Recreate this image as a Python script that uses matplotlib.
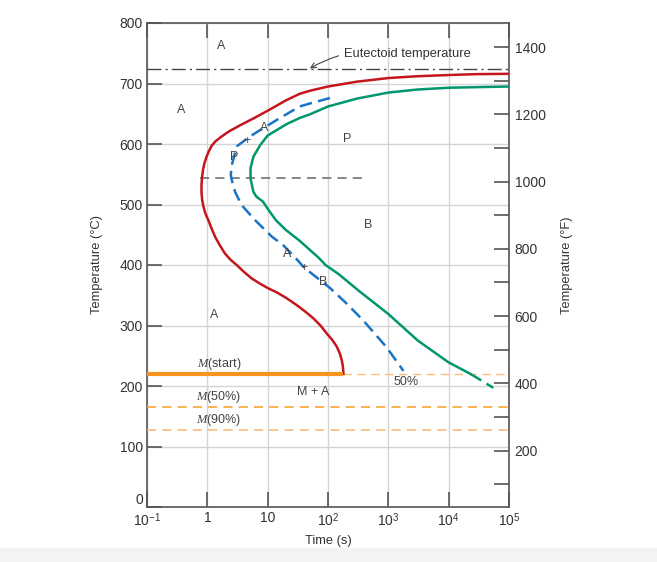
import numpy as np
import matplotlib
matplotlib.use("Agg")
import matplotlib.pyplot as plt
from matplotlib.patches import Rectangle

plt.rcParams['font.family'] = ['Liberation Sans', 'DejaVu Sans']
plt.rcParams['mathtext.fontset'] = 'custom'
plt.rcParams['mathtext.rm'] = 'Liberation Sans'
plt.rcParams['mathtext.it'] = 'Liberation Serif:italic'

# start of transformation (red)
red_t = [1e5, 3e4, 1e4, 3e3, 1e3, 300, 100, 50, 34, 20, 10, 6, 3.5, 2.3, 1.7, 1.35, 1.18, 1.06, 0.97,
         0.9, 0.85, 0.82, 0.8, 0.8, 0.82, 0.86, 0.93, 1.04, 1.18, 1.34, 1.6, 1.96, 2.4, 3.07, 4.0, 5.4, 7.5,
         10, 14, 20, 30, 42, 57, 75, 95, 118, 140, 158, 169, 176, 179, 180]
red_T = [716, 715.5, 714, 712, 709, 703, 695, 688, 683, 672, 655, 643, 631, 621, 612, 604, 597, 588, 579,
         569, 558, 546, 533, 520, 508, 497, 485, 474, 460, 447, 433, 419, 409, 400, 389, 378, 369,
         362, 355, 346, 334, 323, 312, 300, 287, 276, 265, 253, 243, 233, 225, 220]

# end of transformation (green)
green_t = [1e5, 3e4, 1e4, 3e3, 1e3, 300, 100, 50, 34, 20.7, 10, 7.5, 5.8, 5.2, 5.2, 5.8, 6.5, 8.3,
           10.5, 13.7, 20, 33, 70, 91, 150, 318, 1000, 3090, 1e4, 2.3e4]
green_T = [695, 694, 693, 690, 685, 675, 662, 649, 643, 633, 614, 598, 579, 560, 543, 521, 513, 505,
           490, 474, 458, 441, 412, 400, 385, 358, 319, 275, 239, 220]
green_ext_t = [2.3e4, 5.5e4]
green_ext_T = [220, 197]

# 50% completion (blue dashed)
blue_t = [108, 50, 34, 16, 7.5, 5.0, 3.07, 2.54, 2.45, 2.5, 2.88, 3.7, 6.2, 11.7, 18, 30, 40, 108,
          200, 387, 935, 1780]
blue_T = [676, 667, 662, 643, 623, 612, 596, 565, 550, 543, 521, 499, 474, 447, 433, 410, 396, 362,
          337, 308, 264, 225]

eutectoid_T = 724
iso_T = 543
iso_t = [0.76, 380]
ms_T = 220
ms_end_t = 180
m50_T = 165
m90_T = 128

xticks = [1e-1, 1, 10, 1e2, 1e3, 1e4, 1e5]
xticklabels = ['$10^{-1}$', '1', '10', '$10^{2}$', '$10^{3}$', '$10^{4}$', '$10^{5}$']

labels = [
    ('A', 1.69, 762), ('A', 0.37, 656), ('P', 2.8, 578), ('+', 4.5, 605), ('A', 8.7, 627),
    ('P', 207, 608), ('B', 460, 466), ('A', 20.7, 418), ('+', 40.5, 395), ('B', 82, 372),
    ('A', 1.29, 317), ('M + A', 57, 190.5), ('50%', 1990, 207),
    ('$M$(start)', 1.55, 236), ('$M$(50%)', 1.56, 181), ('$M$(90%)', 1.56, 144),
]

fig = plt.figure(figsize=(6.57, 5.62), dpi=100)
fig.patches.append(Rectangle((0, 0), 1, 0.025, transform=fig.transFigure,
                             color='#f3f3f3', zorder=-10))
ax = fig.add_axes([147 / 657, 1 - 507 / 562, 362 / 657, 484 / 562])

tc = '#333333'
ax.set_xscale('log')
ax.set_xlim(1e-1, 1e5)
ax.set_ylim(0, 800)

ax.grid(True, which='major', color='#d4d4d4', linewidth=1.0, zorder=0)
ax.set_xticks(xticks)
ax.set_xticklabels(xticklabels)
ax.xaxis.set_minor_locator(matplotlib.ticker.NullLocator())
ax.set_yticks(np.arange(0, 801, 100))
ax.tick_params(axis='both', which='major', direction='in', length=11, width=1.2,
               color='#555555', labelcolor=tc, labelsize=10, pad=3,
               top=True, right=False)
for s in ax.spines.values():
    s.set_color('#555555')
    s.set_linewidth(1.2)
ax.yaxis.get_major_ticks()[0].label1.set_va('bottom')

ax.set_ylabel('Temperature (°C)', fontsize=9.3, color=tc, labelpad=12)
ax.set_xlabel('Time (s)', fontsize=9.3, color=tc, labelpad=4)

# right axis in Fahrenheit
ax2 = ax.twinx()
ax2.set_ylim(0 * 1.8 + 32, 800 * 1.8 + 32)
ax2.set_yticks(np.arange(200, 1401, 200))
ax2.set_yticks(np.arange(100, 1401, 200), minor=True)
ax2.tick_params(axis='y', which='both', direction='in', length=11, width=1.2,
                color='#555555', labelcolor=tc, labelsize=10, pad=4)
for s in ax2.spines.values():
    s.set_visible(False)
ax2.set_ylabel('Temperature (°F)', fontsize=9.3, color=tc, labelpad=11)

# curves
ax.plot(red_t, red_T, color='#c4161c', lw=1.8, zorder=4)
ax.plot(green_t, green_T, color='#00966e', lw=1.8, zorder=4)
ax.plot(green_ext_t, green_ext_T, color='#00966e', lw=1.8, dashes=(5, 2.5), zorder=4)
ax.plot(blue_t, blue_T, color='#1a73c6', lw=1.8, dashes=(5, 2.5), zorder=4)

ax.axhline(eutectoid_T, color='#444444', lw=1.0, dashes=(10, 3, 1.5, 3), zorder=3)
ax.plot(iso_t, [iso_T, iso_T], color='#666666', lw=1.1, dashes=(6, 4), zorder=3)

ax.plot([1e-1, ms_end_t], [ms_T, ms_T], color='#f7941d', lw=3, solid_capstyle='butt', zorder=5)
ax.plot([ms_end_t, 1e5], [ms_T, ms_T], color='#fbc07a', lw=1.0, dashes=(6, 4), zorder=3)
ax.axhline(m50_T, color='#f5a11f', lw=1.1, dashes=(6, 4), zorder=3)
ax.axhline(m90_T, color='#f7b870', lw=1.1, dashes=(6, 4), zorder=3)

for txt, x, y in labels:
    ax.text(x, y, txt, fontsize=9, color='#444444', ha='center', va='center', zorder=6)

ax.annotate('Eutectoid temperature', xy=(50, 725), xytext=(184, 748),
            fontsize=9.3, color='#333333', ha='left', va='center',
            arrowprops=dict(arrowstyle='->', color='#444444', lw=0.8,
                            connectionstyle='arc3,rad=0.2', shrinkA=2, shrinkB=0))

fig.savefig('out.png', dpi=100)
